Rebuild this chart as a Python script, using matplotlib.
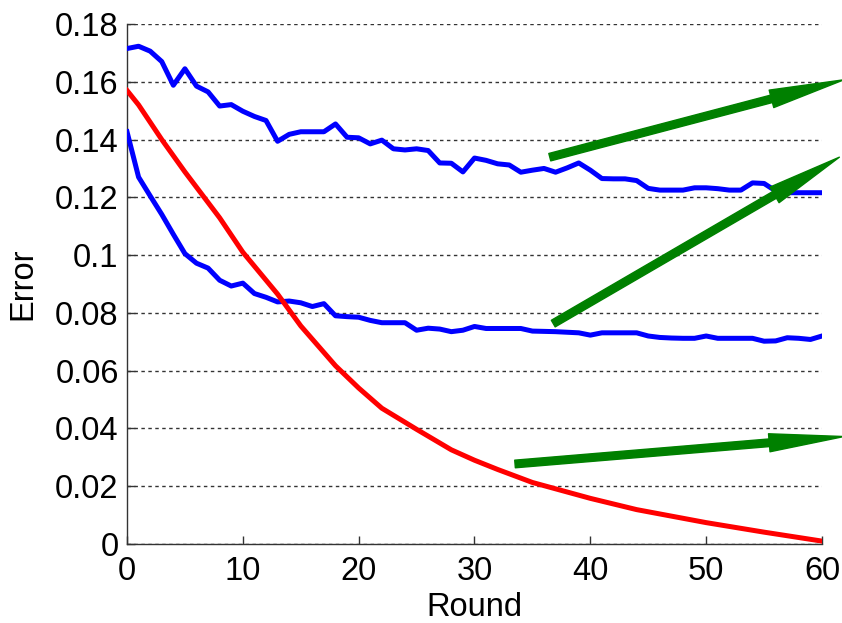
import matplotlib
matplotlib.use("Agg")
import matplotlib.pyplot as plt
from matplotlib.patches import FancyArrowPatch, ArrowStyle

plt.rcParams['font.family'] = ['Liberation Sans', 'DejaVu Sans']

# ---- data ----
rounds = list(range(0, 61))
upper_blue = [0.1715, 0.1723, 0.1706, 0.1670, 0.1588, 0.1645, 0.1585, 0.1565, 0.1516, 0.1521,
              0.1498, 0.1480, 0.1466, 0.1394, 0.1418, 0.1427, 0.1427, 0.1427, 0.1454, 0.1408,
              0.1406, 0.1385, 0.1398, 0.1368, 0.1364, 0.1368, 0.1362, 0.1319, 0.1318, 0.1288,
              0.1336, 0.1328, 0.1316, 0.1312, 0.1287, 0.1294, 0.1300, 0.1287, 0.1302, 0.1319,
              0.1294, 0.1265, 0.1264, 0.1264, 0.1258, 0.1231, 0.1225, 0.1225, 0.1225, 0.1233,
              0.1233, 0.1230, 0.1225, 0.1225, 0.1250, 0.1248, 0.1222, 0.1216, 0.1216, 0.1216,
              0.1216]
lower_blue = [0.1427, 0.1270, 0.1205, 0.1141, 0.1072, 0.1005, 0.0972, 0.0955, 0.0913, 0.0893,
              0.0903, 0.0867, 0.0854, 0.0838, 0.0841, 0.0835, 0.0822, 0.0832, 0.0790, 0.0787,
              0.0785, 0.0774, 0.0766, 0.0766, 0.0766, 0.0740, 0.0747, 0.0744, 0.0735, 0.0740,
              0.0753, 0.0746, 0.0746, 0.0746, 0.0746, 0.0737, 0.0736, 0.0735, 0.0733, 0.0731,
              0.0723, 0.0731, 0.0731, 0.0731, 0.0731, 0.0720, 0.0715, 0.0713, 0.0712, 0.0712,
              0.0720, 0.0712, 0.0712, 0.0712, 0.0712, 0.0702, 0.0703, 0.0714, 0.0712, 0.0708,
              0.0720]
red_rounds = [0, 1, 3, 5, 8, 10, 13, 15, 18, 20, 22, 25, 28, 30, 32, 35, 38, 40, 44, 50, 55, 60]
red_values = [0.1570, 0.1520, 0.1400, 0.1288, 0.1129, 0.1010, 0.0865, 0.0755, 0.0617, 0.0540,
              0.0470, 0.0397, 0.0326, 0.0290, 0.0258, 0.0213, 0.0180, 0.0158, 0.0119, 0.0074,
              0.0041, 0.0010]
x_ticks = [0, 10, 20, 30, 40, 50, 60]
y_ticks = [0, 0.02, 0.04, 0.06, 0.08, 0.1, 0.12, 0.14, 0.16, 0.18]
y_tick_labels = ['0', '0.02', '0.04', '0.06', '0.08', '0.1', '0.12', '0.14', '0.16', '0.18']
# annotation arrows: (tail round, tail error) -> (tip round, tip error)
arrows = [((36.5, 0.1339), (61.9, 0.1607)),
          ((36.8, 0.0763), (61.5, 0.1339)),
          ((33.5, 0.0277), (61.9, 0.0372))]

# ---- figure ----
fig = plt.figure(figsize=(8.42, 6.23), dpi=100)
ax = fig.add_axes([127/842, (623-544)/623, 695/842, 520/623])

ax.plot(rounds, upper_blue, color='#0000ff', lw=3.6, solid_joinstyle='round', zorder=3)
ax.plot(rounds, lower_blue, color='#0000ff', lw=3.6, solid_joinstyle='round', zorder=3)
ax.plot(red_rounds, red_values, color='#ff0000', lw=3.6, solid_joinstyle='round', zorder=3)

ax.set_xlim(0, 60)
ax.set_ylim(0, 0.18)
ax.set_xticks(x_ticks)
ax.set_yticks(y_ticks)
ax.set_yticklabels(y_tick_labels)

ax.yaxis.grid(True, linestyle=(0, (2.5, 2.5)), color='#333333', lw=1.0)
ax.set_axisbelow(True)

for s in ['top', 'right']:
    ax.spines[s].set_visible(False)
for s in ['left', 'bottom']:
    ax.spines[s].set_color('#333333')
    ax.spines[s].set_linewidth(1.0)

ax.tick_params(direction='in', length=6, width=1, color='#333333',
               labelsize=23.5, top=False, right=False)
ax.tick_params(axis='x', pad=9)
ax.tick_params(axis='y', pad=6)
ax.set_xlabel('Round', fontsize=23.5, labelpad=3)
ax.set_ylabel('Error', fontsize=23.5, labelpad=12)

for (a, b) in arrows:
    arr = FancyArrowPatch(posA=a, posB=b,
                          arrowstyle=ArrowStyle.Simple(head_length=54, head_width=13, tail_width=5.5),
                          mutation_scale=1, color='#008000', shrinkA=0, shrinkB=0,
                          clip_on=False, zorder=5)
    ax.add_patch(arr)

fig.savefig('out.png', dpi=100)
